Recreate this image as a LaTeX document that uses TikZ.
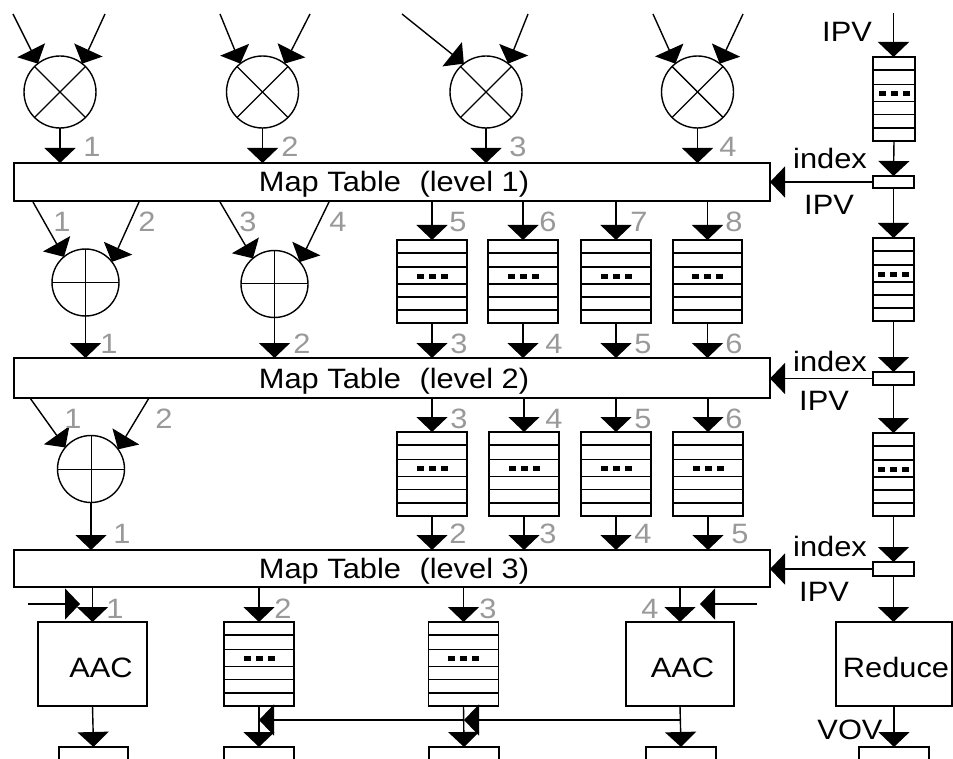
\documentclass[tikz,border=0pt]{standalone}
\usepackage{fontspec}
\setmainfont[FakeStretch=1.1]{Liberation Sans}
\usetikzlibrary{arrows.meta,calc}
\definecolor{numgrey}{gray}{0.6}
\tikzset{
  line/.style={line width=1.4pt},
  arr/.style={line width=1.4pt,-{Triangle[length=15pt,width=31pt]}},
  txt/.style={inner sep=0pt,outer sep=0pt,font=\fontsize{28}{30}\selectfont},
  num/.style={txt,text=numgrey},
  tablebox/.style={draw,line,inner sep=0pt,outer sep=0pt,minimum width=756pt,text height=25pt,text depth=5pt,font=\fontsize{28}{30}\selectfont},
  mulop/.style={draw,line,circle,inner sep=0pt,outer sep=0pt,minimum size=72pt},
  addop/.style={draw,line,circle,inner sep=0pt,outer sep=0pt,minimum size=67pt},
  box/.style={draw,line,inner sep=0pt,outer sep=0pt,text height=32pt,text depth=6pt,font=\fontsize{28}{30}\selectfont},
  plainbox/.style={draw,line,inner sep=0pt,outer sep=0pt},
}
\newcommand{\queuebox}[5]{%
  \node[plainbox,minimum width=#4pt,minimum height=#5pt] (#1) at (#2,#3) {};
  \foreach \f in {0.157,0.325,0.53,0.687,0.843}
    \draw[line] ($(#1.north west)!\f!(#1.south west)$) -- ($(#1.north east)!\f!(#1.south east)$);
  \foreach \d in {-12,0,12}
    \fill ($(#1.north)!0.44!(#1.south)+(\d pt,0)$) ++(-3.5pt,-2.5pt) rectangle ++(7pt,5pt);
}
\begin{document}
\begin{tikzpicture}[x=1pt,y=-1pt]
\useasboundingbox (0,0) rectangle (953,759);
% tables
\node[tablebox,minimum height=38pt] (t1) at (392,182) {\hspace*{4pt}Map Table\hspace{10pt} (level 1)};
\node[tablebox,minimum height=40pt] (t2) at (392,378) {\hspace*{4pt}Map Table\hspace{10pt} (level 2)};
\node[tablebox,minimum height=37pt] (t3) at (392,568.5) {\hspace*{4pt}Map Table\hspace{10pt} (level 3)};
% multipliers
\foreach \n/\x in {1/60,2/262.5,3/486,4/697.5}{
  \node[mulop] (m\n) at (\x,92) {};
  \draw[line] (m\n.45) -- (m\n.225);
  \draw[line] (m\n.135) -- (m\n.315);
  \draw[arr] (m\n.south) -- (m\n.south |- t1.north);
}
\coordinate (i1a) at (13,14);   \coordinate (i1b) at (105,14);
\coordinate (i2a) at (220,14);  \coordinate (i2b) at (310,14);
\coordinate (i3a) at (402,14);  \coordinate (i3b) at (528,14);
\coordinate (i4a) at (653,14);  \coordinate (i4b) at (743,14);
\foreach \n in {1,2,3,4}{
  \draw[arr] (i\n a) -- (m\n.128);
  \draw[arr] (i\n b) -- (m\n.52);
}
% adders
\node[addop] (a1) at (85.5,282.5) {};
\node[addop] (a2) at (274.5,284) {};
\node[addop] (a3) at (91,469) {};
\foreach \n in {1,2,3}{
  \draw[line width=1pt] (a\n.north) -- (a\n.south);
  \draw[line width=1pt] (a\n.west) -- (a\n.east);
}
\coordinate (o1a) at (33,202);  \coordinate (o1b) at (139,202);
\coordinate (o2a) at (220,202); \coordinate (o2b) at (329,202);
\coordinate (o3a) at (30,398);  \coordinate (o3b) at (149,398);
\draw[arr] (o1a) -- (a1.130);
\draw[arr] (o1b) -- (a1.38);
\draw[arr] (o2a) -- (a2.130);
\draw[arr] (o2b) -- (a2.41);
\draw[arr] (o3a) -- (a3.140);
\draw[arr] (o3b) -- (a3.36);
\draw[arr] (a1.south) -- (a1.south |- t2.north);
\draw[arr] (a2.south) -- (a2.south |- t2.north);
\draw[arr] (a3.south) -- (a3.south |- t3.north);
% queues
\queuebox{qa}{432}{281.5}{70}{83}
\queuebox{qb}{523}{281.5}{70}{83}
\queuebox{qc}{616}{281.5}{70}{83}
\queuebox{qd}{707.5}{281.5}{69}{83}
\queuebox{ra}{432}{474}{70}{84}
\queuebox{rb}{524}{474}{70}{84}
\queuebox{rc}{616}{474}{70}{84}
\queuebox{rd}{708}{474}{70}{84}
\foreach \q in {qa,qb,qc,qd}{
  \draw[arr] (\q.north |- t1.south) -- (\q.north);
  \draw[arr] (\q.south) -- (\q.south |- t2.north);
}
\foreach \q in {ra,rb,rc,rd}{
  \draw[arr] (\q.north |- t2.south) -- (\q.north);
  \draw[arr] (\q.south) -- (\q.south |- t3.north);
}
% bottom row
\node[box,minimum width=109pt,minimum height=84pt] (aac1) at (92.5,664) {\hspace*{17pt}AAC};
\queuebox{sa}{259}{664}{70}{84}
\queuebox{sb}{463.5}{664}{70}{84}
\node[box,minimum width=108pt,minimum height=84pt] (aac2) at (680,664) {\hspace*{5pt}AAC};
\node[box,minimum width=116pt,minimum height=84pt] (red) at (894,664) {\hspace*{4pt}Reduce};
\foreach \q in {aac1,sa,sb,aac2}
  \draw[arr] (\q.north |- t3.south) -- (\q.north);
\node[plainbox,minimum width=69pt,minimum height=30pt] (b1) at (93.5,762) {};
\node[plainbox,minimum width=70pt,minimum height=30pt] (b2) at (259,762) {};
\node[plainbox,minimum width=70pt,minimum height=30pt] (b3) at (464,762) {};
\node[plainbox,minimum width=70pt,minimum height=30pt] (b4) at (681,762) {};
\node[plainbox,minimum width=70pt,minimum height=30pt] (b5) at (894,762) {};
\draw[arr] (aac1.south) -- (b1.north);
\draw[arr] (sa.south) -- (b2.north);
\draw[arr] (sb.south) -- (b3.north);
\draw[arr] (aac2.south) -- (b4.north);
\draw[arr] (red.south) -- (b5.north);
\coordinate (j4) at (680,720);
\coordinate (j3) at (464,720);
\coordinate (j2) at (259,720);
\draw[arr] (j4) -- (j3);
\draw[arr] (j3) -- (j2);
\coordinate (sl) at (28,604);  \coordinate (sle) at (80,604);
\coordinate (sr) at (757,604); \coordinate (sre) at (700,604);
\draw[arr] (sl) -- (sle);
\draw[arr] (sr) -- (sre);
% right column
\queuebox{pa}{894}{99}{42}{84}
\queuebox{pb}{893.5}{279.5}{41}{83}
\queuebox{pc}{893.5}{474.5}{41}{83}
\node[plainbox,minimum width=41pt,minimum height=12pt] (x1) at (893.5,182) {};
\node[plainbox,minimum width=41pt,minimum height=13pt] (x2) at (893.5,378.5) {};
\node[plainbox,minimum width=41pt,minimum height=14pt] (x3) at (893.5,569) {};
\coordinate (ptop) at (893.5,13);
\draw[arr] (ptop) -- (ptop |- pa.north);
\draw[arr] (pa.south) -- (x1.north);
\draw[arr] (x1.south) -- (pb.north);
\draw[arr] (pb.south) -- (x2.north);
\draw[arr] (x2.south) -- (pc.north);
\draw[arr] (pc.south) -- (x3.north);
\draw[arr] (x3.south) -- (x3.south |- red.north);
\draw[arr] (x1.west) -- (t1.east |- x1.west);
\draw[arr] (x2.west) -- (t2.east |- x2.west);
\draw[arr] (x3.west) -- (t3.east |- x3.west);
% black labels
\node[txt] (l1) at (847,32) {IPV};
\node[txt] (l2) at (830,158) {index};
\node[txt] (l3) at (829,205) {IPV};
\node[txt] (l4) at (830,361.5) {index};
\node[txt] (l5) at (824,401) {IPV};
\node[txt] (l6) at (830,546) {index};
\node[txt] (l7) at (824,592) {IPV};
\node[txt] (l8) at (850,730) {VOV};
% grey numbers
\foreach \x/\y/\t [count=\i] in {
  92/147/1,290/147/2,518/147/3,728/147/4,
  62/222/1,147/222/2,248/222/3,338/222/4,458/222/5,548/222/6,639/222/7,734/222/8,
  109/344/1,302/344/2,459/344/3,554/344/4,643/344/5,734/344/6,
  73/419/1,164/419/2,459/419/3,554/419/4,643/419/5,734/419/6,
  122/534/1,458/534/2,548/534/3,643/534/4,740/534/5,
  115/609/1,283/609/2,488/609/3,650/609/4}
  \node[num] (n\i) at (\x,\y) {\t};
\end{tikzpicture}
\end{document}
